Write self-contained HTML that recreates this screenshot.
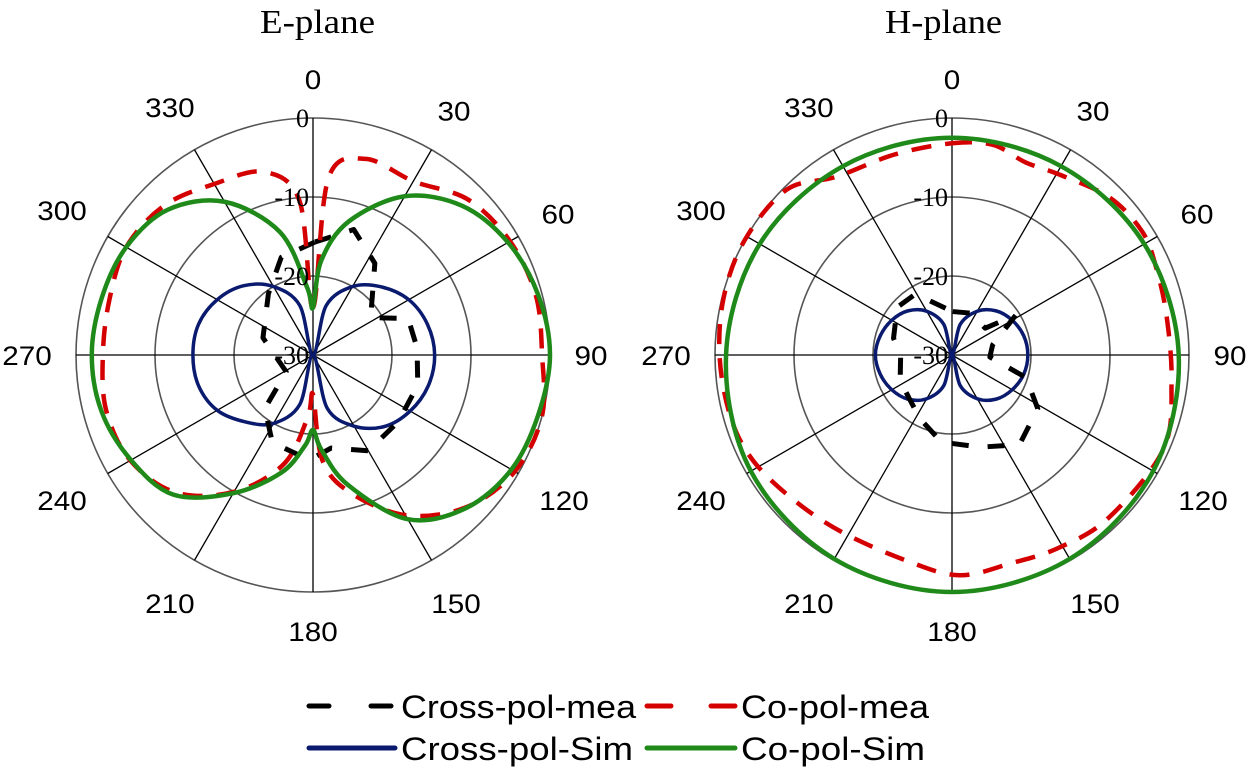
<!DOCTYPE html>
<html><head><meta charset="utf-8">
<style>
html,body{margin:0;padding:0;background:#fff;}
svg{display:block;}
.ang{font-family:"Liberation Sans",Arial,sans-serif;font-size:27px;fill:#000;}
.ring{font-family:"Liberation Serif","Times New Roman",serif;font-size:26px;fill:#000;}
.title{font-family:"Liberation Serif","Times New Roman",serif;font-size:34px;fill:#000;}
.leg{font-family:"Liberation Sans",Arial,sans-serif;font-size:32px;fill:#000;}
</style></head>
<body>
<svg id="chart" width="1250" height="774" viewBox="0 0 1250 774" xmlns="http://www.w3.org/2000/svg">
<text class="title" x="260" y="33" textLength="115" lengthAdjust="spacingAndGlyphs">E-plane</text>
<text class="title" x="885" y="33" textLength="117" lengthAdjust="spacingAndGlyphs">H-plane</text>
<g id="eplane"></g>
<g id="hplane"></g>
<g>
  <g>
    <line x1="309" y1="706" x2="395" y2="706" stroke="#000" stroke-width="5" stroke-dasharray="20 42" stroke-linecap="round"/>
    <text class="leg" x="401" y="718" textLength="235" lengthAdjust="spacingAndGlyphs">Cross-pol-mea</text>
  </g>
  <g>
    <line x1="647" y1="706" x2="735" y2="706" stroke="#d40000" stroke-width="5" stroke-dasharray="24 40" stroke-linecap="round"/>
    <text class="leg" x="741" y="718" textLength="188" lengthAdjust="spacingAndGlyphs">Co-pol-mea</text>
  </g>
  <g>
    <line x1="309" y1="748" x2="395" y2="748" stroke="#0a1a6e" stroke-width="5" stroke-linecap="round"/>
    <text class="leg" x="401" y="760" textLength="232" lengthAdjust="spacingAndGlyphs">Cross-pol-Sim</text>
  </g>
  <g>
    <line x1="647" y1="748" x2="735" y2="748" stroke="#1f8a1a" stroke-width="5" stroke-linecap="round"/>
    <text class="leg" x="741" y="760" textLength="184" lengthAdjust="spacingAndGlyphs">Co-pol-Sim</text>
  </g>
</g>
</svg>
<script>
// ---- data ----
const angleTicks = [0,30,60,90,120,150,180,210,240,270,300,330];
const ringTicks = [0,-10,-20,-30];

const eCoSimAngles = [0,5,15,30,45,60,75,90,105,120,135,150,165,175,180,185,195,210,225,240,255,270,285,300,315,330,345,355];
const eCoSimValues = [-24,-18,-12.5,-6.8,-3.3,-1.5,-0.5,0,-0.5,-1,-2.6,-6,-13,-18,-20.5,-18.5,-14.6,-9.8,-5,-3.4,-2.3,-2,-2.3,-2.7,-4,-7.6,-13.9,-21.4];
const eCoMeaAngles = [0,5,15,30,45,60,75,90,105,120,135,150,165,175,180,185,195,210,225,240,255,270,285,300,315,330,345,355];
const eCoMeaValues = [-24,-7.5,-4.3,-4.6,-2.2,-1.2,-0.8,-1,0,-0.5,-2.7,-6.6,-12,-16.7,-25,-22,-15.7,-10,-5.4,-3.3,-2.9,-3.4,-3.3,-2.7,-3.3,-5,-6,-10.4];
const eXSimAngles = [0,15,30,45,60,75,90,105,120,135,150,165,180,195,210,225,240,255,270,285,300,315,330,345];
const eXSimValues = [-30,-23.5,-20,-17.8,-16,-15,-14.6,-14.9,-15.8,-17.2,-19.6,-23,-30,-23.5,-20,-18,-16,-15,-14.8,-15,-16,-17.6,-20,-23.5];
const eXMeaAngles = [1,18,34,57,69,86,106,128,150,169,182,205,222,238,289,324,342];
const eXMeaValues = [-15.7,-13.3,-16,-21.3,-17.1,-16.8,-16.2,-16.3,-16,-18,-16.7,-17.8,-20.9,-26,-23.3,-20.4,-17];

const hCoSimAngles = [0,30,60,90,120,150,180,210,240,270,300,330];
const hCoSimValues = [-2.5,-2.4,-1.9,-1.3,-0.6,-0.2,0,-0.2,-0.6,-1.4,-1.9,-2.4];
const hCoMeaAngles = [0,11,21,31,45,57,67,80,97,114,136,151,164,178,192,212,228,242,254,269,284,299,315,327,344];
const hCoMeaValues = [-3.2,-2.9,-3.9,-3.4,-1.8,-1.3,-1.9,-2.4,-2,-0.7,-1.4,-2.1,-2.6,-2.1,-3.3,-3.6,-2.8,-1.5,-0.9,-0.6,-0.2,0,-0.4,-3.1,-3.6];
const hXSimAngles = [0,15,30,45,60,75,90,105,120,135,150,165,180,195,210,225,240,255,270,285,300,315,330,345];
const hXSimValues = [-30,-26,-23.6,-22.1,-21.2,-20.6,-20.4,-20.6,-21.2,-22.1,-23.6,-26,-30,-26,-23.6,-22.1,-21.2,-20.6,-20.3,-20.6,-21.2,-22.1,-23.6,-26];
const hXMeaAngles = [1,24,51,58,76,93,107,122,143,163,187,207,225,244,270,286,311,329];
const hXMeaValues = [-24.5,-24.2,-24.6,-20.5,-24.7,-25.2,-20.2,-17.2,-15.8,-17.8,-18.9,-21,-22.3,-22.7,-23.5,-22.3,-20.8,-21];

// ---- rendering ----
const NS = "http://www.w3.org/2000/svg";
const R = 237, DBMIN = -30, DBMAX = 0;
function rScale(db){ return (db - DBMIN) / (DBMAX - DBMIN) * R; }
function pt(cx, cy, deg, db){
  const a = deg * Math.PI / 180, r = rScale(db);
  return [cx + r * Math.sin(a), cy - r * Math.cos(a)];
}
function mk(tag, attrs){
  const el = document.createElementNS(NS, tag);
  for (const k in attrs) el.setAttribute(k, attrs[k]);
  return el;
}
function smoothPath(pts){
  const n = pts.length; let d = "M" + pts[0][0].toFixed(2) + "," + pts[0][1].toFixed(2);
  for (let i = 0; i < n; i++){
    const p0 = pts[(i - 1 + n) % n], p1 = pts[i], p2 = pts[(i + 1) % n], p3 = pts[(i + 2) % n];
    const c1 = [p1[0] + (p2[0] - p0[0]) / 6, p1[1] + (p2[1] - p0[1]) / 6];
    const c2 = [p2[0] - (p3[0] - p1[0]) / 6, p2[1] - (p3[1] - p1[1]) / 6];
    d += "C" + c1.map(v=>v.toFixed(2)).join(",") + " " + c2.map(v=>v.toFixed(2)).join(",") + " " + p2.map(v=>v.toFixed(2)).join(",");
  }
  return d + "Z";
}
function linePath(pts){
  return "M" + pts.map(p => p[0].toFixed(2) + "," + p[1].toFixed(2)).join("L") + "Z";
}
function drawPolar(g, cx, cy, prefix, series){
  ringTicks.forEach(db => {
    if (db === DBMIN) return;
    const c = mk("circle", {cx: cx, cy: cy, r: rScale(db), fill: "none", stroke: "#555", "stroke-width": 1.6});
    
    
    g.appendChild(c);
  });
  angleTicks.forEach(a => {
    const p = pt(cx, cy, a, DBMAX);
    const l = mk("line", {x1: cx, y1: cy, x2: p[0], y2: p[1], stroke: "#000", "stroke-width": 1.3});
    
    
    g.appendChild(l);
    const rad = a * Math.PI / 180;
    const s = String(a);
    const lr = 262 + Math.abs(Math.sin(rad)) * s.length * 8 + Math.abs(Math.cos(rad)) * 14;
    const t = mk("text", {x: cx + lr * Math.sin(rad), y: cy - lr * Math.cos(rad) + 10, "text-anchor": "middle", class: "ang", textLength: s.length * 16.5, lengthAdjust: "spacingAndGlyphs"});
    t.textContent = s;
    
    
    g.appendChild(t);
  });
  series.forEach(s => {
    const pts = s.angles.map((a, i) => pt(cx, cy, a, s.values[i]));
    const attrs = {d: s.smooth ? smoothPath(pts) : linePath(pts), fill: "none", stroke: s.color, "stroke-width": s.width, "stroke-linejoin": "round"};
    if (s.dash) attrs["stroke-dasharray"] = s.dash;
    const p = mk("path", attrs);
    
    
    g.appendChild(p);
  });
  ringTicks.forEach(db => {
    const t = mk("text", {x: cx - 4, y: cy - rScale(db) + 9, "text-anchor": "end", class: "ring"});
    t.textContent = db;
    
    
    g.appendChild(t);
  });
}
drawPolar(document.getElementById("eplane"), 313, 355, "e-plane", [
  {name: "e-cross-pol-sim", angles: eXSimAngles, values: eXSimValues, color: "#0a1a6e", width: 3.5, smooth: true},
  {name: "e-cross-pol-mea", angles: eXMeaAngles, values: eXMeaValues, color: "#000", width: 5, dash: "17 19", smooth: false},
  {name: "e-co-pol-mea", angles: eCoMeaAngles, values: eCoMeaValues, color: "#d40000", width: 4.5, dash: "20 14", smooth: true},
  {name: "e-co-pol-sim", angles: eCoSimAngles, values: eCoSimValues, color: "#1f8a1a", width: 4.5, smooth: true}
]);
drawPolar(document.getElementById("hplane"), 952, 355, "h-plane", [
  {name: "h-cross-pol-sim", angles: hXSimAngles, values: hXSimValues, color: "#0a1a6e", width: 3.5, smooth: true},
  {name: "h-cross-pol-mea", angles: hXMeaAngles, values: hXMeaValues, color: "#000", width: 5, dash: "17 19", smooth: false},
  {name: "h-co-pol-mea", angles: hCoMeaAngles, values: hCoMeaValues, color: "#d40000", width: 4.5, dash: "20 14", smooth: true},
  {name: "h-co-pol-sim", angles: hCoSimAngles, values: hCoSimValues, color: "#1f8a1a", width: 4.5, smooth: true}
]);
</script>
</body></html>
